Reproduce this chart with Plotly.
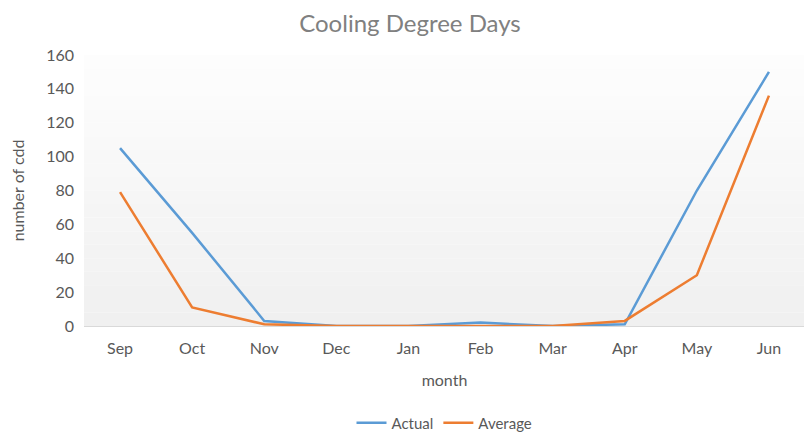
import plotly.graph_objects as go

months = ["Sep", "Oct", "Nov", "Dec", "Jan", "Feb", "Mar", "Apr", "May", "Jun"]
actual = [105, 55, 3, 0, 0, 2, 0, 1, 80, 150]
average = [79, 11, 1, 0, 0, 0, 0, 3, 30, 136]

y_ticks = [0, 20, 40, 60, 80, 100, 120, 140, 160]

FONT = "Lato, 'Open Sans', sans-serif"
TXT = "#595959"
W, H = 804, 425  # page body adds an 8px margin

fig = go.Figure()
fig.add_trace(go.Scatter(x=months, y=actual, mode="lines", name="Actual",
                         line=dict(color="#5B9BD5", width=2.5)))
fig.add_trace(go.Scatter(x=months, y=average, mode="lines", name="Average",
                         line=dict(color="#ED7D31", width=2.5)))

# gradient-ish plot background
n = 20
for i in range(n):
    c0 = 253 - int(round(13 * i / (n - 1)))
    fig.add_shape(type="rect", xref="x domain", yref="y domain",
                  x0=0, x1=1, y0=1 - (i + 1) / n, y1=1 - i / n,
                  fillcolor=f"rgb({c0},{c0},{c0})", line=dict(width=0),
                  layer="below")

fig.update_layout(
    width=W, height=H,
    margin=dict(l=76, r=7, t=47, b=107, autoexpand=False),
    paper_bgcolor="white", plot_bgcolor="white",
    font=dict(family=FONT, color=TXT, size=16),
    title=dict(text="Cooling Degree Days", x=0.5, xanchor="center",
               yref="container", y=1 - 16 / H, yanchor="middle",
               font=dict(size=24, color="#808080", family=FONT)),
    showlegend=True,
    legend=dict(orientation="h", x=0.5, xanchor="center",
                yref="container", y=10 / H, yanchor="middle",
                font=dict(size=15, color=TXT)),
    xaxis=dict(range=[-0.5, 9.5], showgrid=False, showline=True, linecolor="#d9d9d9", linewidth=1,
               ticks="", tickfont=dict(size=16, color=TXT), ticklabelstandoff=8,
               title=dict(text="month", font=dict(size=16, color=TXT), standoff=18)),
    yaxis=dict(range=[0, 160], tickvals=y_ticks, showgrid=False, zeroline=False,
               showline=False, ticks="", tickfont=dict(size=16, color=TXT), ticklabelstandoff=9,
               title=dict(text="number of cdd", font=dict(size=16, color=TXT), standoff=20)),
)

fig.write_html("out.html")
